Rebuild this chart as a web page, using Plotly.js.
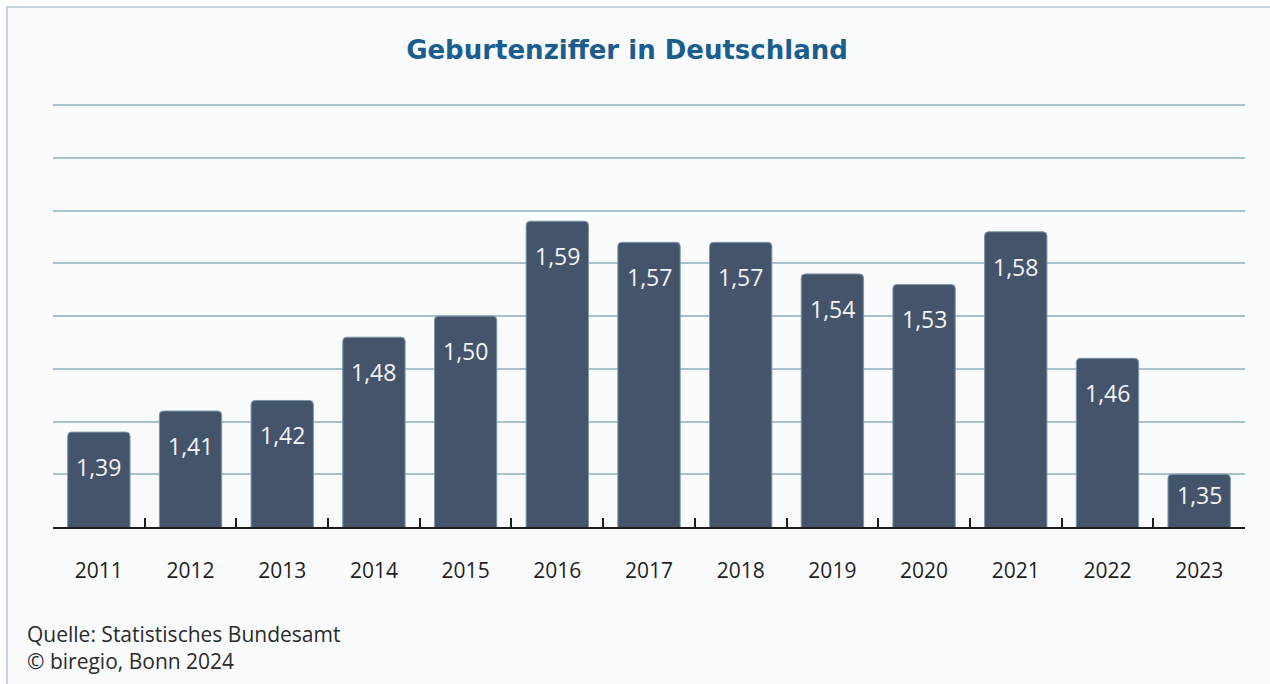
<!DOCTYPE html>
<html>
<head>
<meta charset="utf-8">
<script src="https://cdn.plot.ly/plotly-3.0.1.min.js"></script>
<style>
  html, body { margin: 0; padding: 0; background: #ffffff; }
  #chart { position: absolute; left: 6px; top: 6px; width: 1264px; height: 678px;
           border-left: 2px solid #c6d4dd; border-top: 2px solid #c6d4dd; background: #f9fbfd; }
</style>
</head>
<body>
<div id="chart"></div>
<script>
const years = ['2011','2012','2013','2014','2015','2016','2017','2018','2019','2020','2021','2022','2023'];
const fertility = [1.39, 1.41, 1.42, 1.48, 1.50, 1.59, 1.57, 1.57, 1.54, 1.53, 1.58, 1.46, 1.35];
const titleText = 'Geburtenziffer in Deutschland';
const sourceLines = ['Quelle: Statistisches Bundesamt', '© biregio, Bonn 2024'];
const yMin = 1.30, yMax = 1.70, yStep = 0.05;

const W = 1264, H = 678;
const yTop = yMax + 0.004;
const M = { l: 45, r: 27, t: 93, b: 159 };
const plotH = H - M.t - M.b;
const pxPerUnit = plotH / (yTop - yMin);

const fmt = v => v.toFixed(2).replace('.', ',');

const labelAnnotations = years.map((yr, i) => {
  const hPx = (fertility[i] - yMin) * pxPerUnit;
  return {
    x: i, y: fertility[i], xref: 'x', yref: 'y',
    text: fmt(fertility[i]), showarrow: false,
    yanchor: 'middle', xanchor: 'center',
    yshift: -Math.min(35, hPx / 2 - 6),
    font: { family: 'Open Sans, sans-serif', size: 23, color: '#f2f4f6' }
  };
});

const footerAnnotations = sourceLines.map((t, i) => ({
  xref: 'paper', yref: 'paper',
  x: (17 - M.l) / (W - M.l - M.r),
  y: (H - M.b - (626 + i * 27)) / plotH,
  xanchor: 'left', yanchor: 'middle', showarrow: false, text: t,
  font: { family: 'Open Sans, sans-serif', size: 21, color: '#2b2b2b' }
}));

const trace = {
  type: 'bar', x: years, y: fertility,
  marker: { color: '#44546a', line: { color: '#7f98aa', width: 1 } },
  hoverinfo: 'none'
};

const layout = {
  width: W, height: H,
  margin: M,
  paper_bgcolor: '#f9fbfd', plot_bgcolor: '#f9fbfd',
  bargap: 0.32,
  barcornerradius: 4,
  showlegend: false,
  title: {
    text: titleText, x: 619 / W, xanchor: 'center', xref: 'container',
    y: 1 - 42 / H, yref: 'container', yanchor: 'middle',
    font: { family: 'DejaVu Sans, sans-serif', size: 26, color: '#1b5d8f', weight: 'bold' }
  },
  xaxis: {
    type: 'category', tickson: 'boundaries',
    range: [-0.5, years.length - 0.5], autorange: false,
    ticks: 'inside', ticklen: 9, tickwidth: 2, tickcolor: '#1e1e1e',
    showline: true, linecolor: '#1e1e1e', linewidth: 2,
    showgrid: false, zeroline: false, tickangle: 0,
    ticklabelstandoff: 24,
    tickfont: { family: 'Open Sans, sans-serif', size: 21, color: '#1f1f1f' }
  },
  yaxis: {
    range: [yMin, yTop], autorange: false, dtick: yStep, tick0: yMin,
    showticklabels: false, ticks: '',
    showgrid: true, gridcolor: '#a9c1ce', gridwidth: 2,
    zeroline: false, showline: false
  },
  annotations: labelAnnotations.concat(footerAnnotations)
};

Plotly.newPlot('chart', [trace], layout, { displayModeBar: false, staticPlot: true });
</script>
</body>
</html>
